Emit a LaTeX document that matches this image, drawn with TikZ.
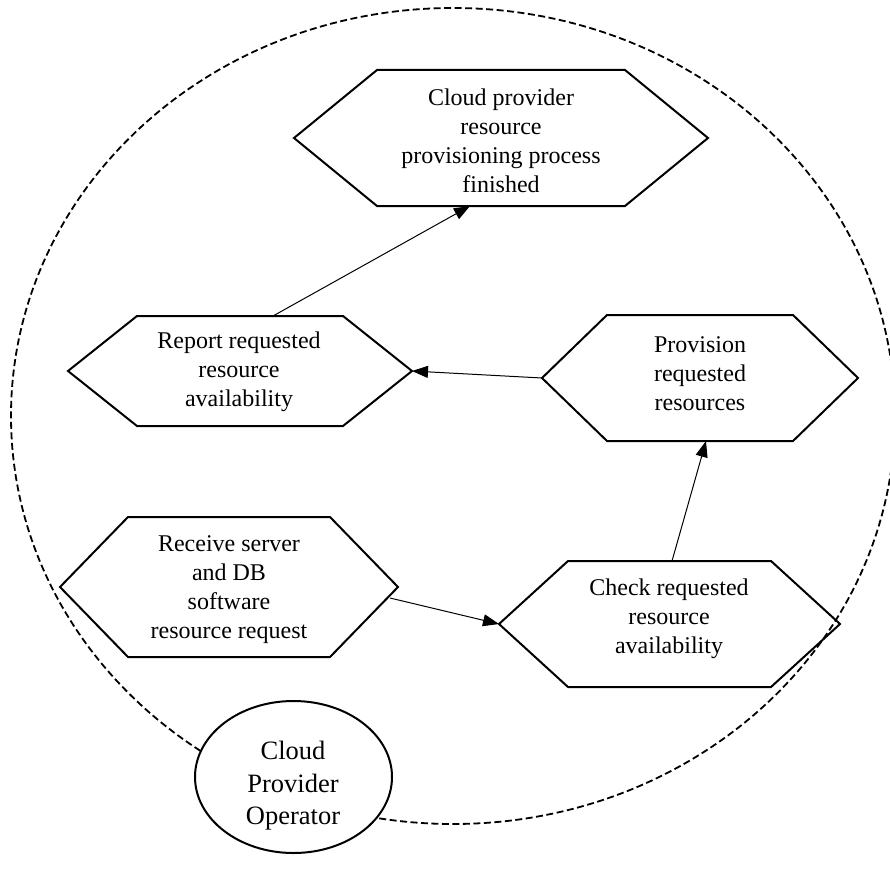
\documentclass[tikz,border=0pt]{standalone}
\usepackage{fontspec}
\setmainfont{Liberation Serif}
\usetikzlibrary{arrows.meta,shapes.geometric}

% hexagon with pointed left/right ends: name, cx, cy, half width, inset, half height
\newcommand{\hexshape}[6]{%
  \draw[hexline] ({#2-#4},{#3}) coordinate (#1-W)
    -- ({#2-#4+#5},{#3-#6}) -- ({#2+#4-#5},{#3-#6})
    -- ({#2+#4},{#3}) coordinate (#1-E)
    -- ({#2+#4-#5},{#3+#6}) -- ({#2-#4+#5},{#3+#6}) -- cycle;
}

\tikzset{
  hexline/.style={line width=2pt, line join=miter},
  boundary/.style={line width=1.8pt, dash pattern=on 7pt off 3.5pt},
  label/.style={align=center, font=\fontsize{24}{29}\selectfont, inner sep=0pt},
  actor/.style={ellipse, draw, line width=2pt, fill=white,
                minimum width=197pt, minimum height=152pt, inner sep=0pt},
  flow/.style={line width=1pt, -{Triangle[length=16pt,width=12pt]}}
}

\begin{document}
\begin{tikzpicture}[x=1pt,y=-1pt]
\useasboundingbox (0,0) rectangle (890,880);

% system boundary
\draw[boundary] (453,416) ellipse [x radius=442, y radius=408];

% process steps
\hexshape{top}{501}{138}{207}{83}{68}
\node[label] (topt) at (501,141) {Cloud provider\\resource\\provisioning process\\finished};

\hexshape{rep}{240}{371}{172}{69}{55}
\node[label] (rept) at (239,372) {Report requested\\resource\\availability};

\hexshape{prov}{700}{378}{158}{65}{63}
\node[label] (provt) at (700,374) {Provision\\requested\\resources};

\hexshape{rcv}{229}{587}{169}{68}{70}
\node[label] (rcvt) at (229,590) {Receive server\\and DB\\software\\resource request};

\hexshape{chk}{669.5}{624}{170.5}{69}{63}
\node[label] (chkt) at (669,619) {Check requested\\resource\\availability};

% actor
\node[actor] (op) at (293.5,777) {};
\node[align=center, font=\fontsize{26.5}{32.5}\selectfont, inner sep=0pt] (opt) at (293,786) {Cloud\\Provider\\Operator};

% connector end points on the hexagon borders
\coordinate (rcv-out) at (390,598);
\coordinate (chk-N) at (672,561);
\coordinate (prov-S) at (706,441);
\coordinate (rep-N) at (273,316);
\coordinate (top-S) at (470,206);

% flow
\draw[flow] (rcv-out) -- (chk-W);
\draw[flow] (chk-N) -- (prov-S);
\draw[flow] (prov-W) -- (rep-E);
\draw[flow] (rep-N) -- (top-S);
\end{tikzpicture}
\end{document}
